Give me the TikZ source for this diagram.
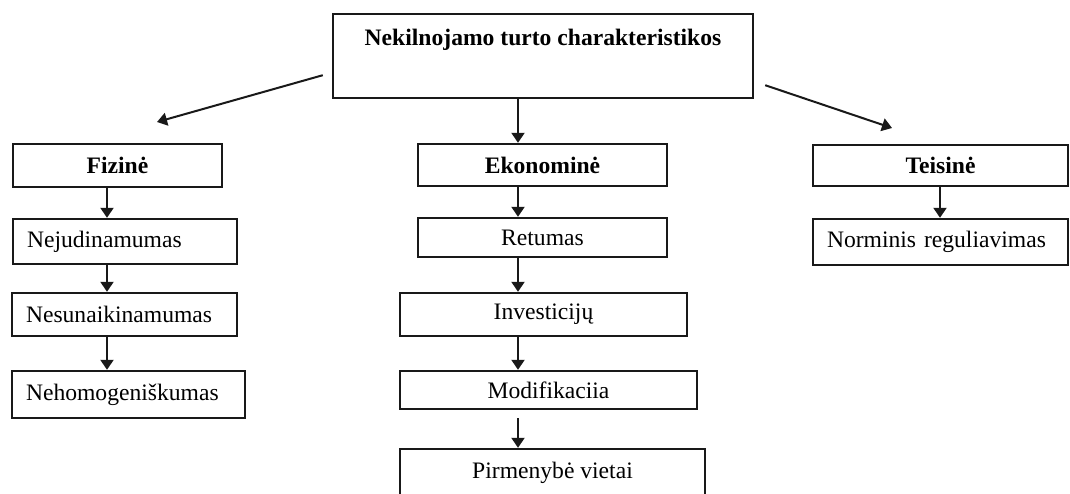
\documentclass[tikz,border=0pt]{standalone}
\usepackage{fontspec}
\setmainfont{Liberation Serif}
\usepackage{tikz}
\usetikzlibrary{arrows.meta}
\definecolor{figline}{RGB}{25,25,25}
\tikzset{
  box/.style ={draw=figline, line width=1.2pt, inner sep=0pt, font=\fontsize{11.8}{14}\selectfont},
  hd/.style  ={box, font=\fontsize{11.8}{14}\selectfont\bfseries},
  lft/.style ={box, align=left, inner xsep=7pt},
  arr/.style ={draw=figline, line width=1pt, -{Triangle[length=5pt,width=6.5pt]}},
}
\begin{document}
\begin{tikzpicture}[x=0.5pt,y=-0.5pt]
  \useasboundingbox (0,0) rectangle (1070,493);
  \clip (0,0) rectangle (1070,493);
  \node[hd,anchor=north,minimum width=210pt,text height=15.5pt,text depth=26.5pt] (top) at (543,13) {Nekilnojamo turto charakteristikos};
  \node[hd,minimum width=104.5pt,minimum height=21.5pt] (fiz) at (117.5,165.5) {Fizinė};
  \node[hd,minimum width=124.5pt,minimum height=21pt] (eko) at (542.5,165) {Ekonominė};
  \node[hd,minimum width=127.5pt,minimum height=20.5pt] (tei) at (940.5,165.5) {Teisinė};
  \node[lft,text width=98pt,minimum height=22.5pt] (nej) at (125,241.5) {Nejudinamumas};
  \node[lft,text width=98.5pt,minimum height=21.5pt] (nes) at (124.5,314.5) {Nesunaikinamumas};
  \node[lft,text width=102.5pt,minimum height=23.5pt] (neh) at (128.5,394.5) {Nehomogeniškumas};
  \node[box,minimum width=124.5pt,minimum height=19.5pt] (ret) at (542.5,237.5) {Retumas};
  \node[box,minimum width=143.5pt,minimum height=21.5pt] (inv) at (543.5,314.5) {Investicijų};
  \node[box,minimum width=148.5pt,minimum height=19pt] (mod) at (548.5,390) {Modifikaciia};
  \node[box,minimum width=152.5pt,minimum height=24pt] (pir) at (552.5,473) {Pirmenybė vietai};
  \node[lft,text width=113.5pt,minimum height=23pt] (nor) at (940.5,242) {Norminis reguliavimas};
  \coordinate (lx) at (107,0);
  \coordinate (mx) at (518,0);
  \coordinate (rx) at (940,0);
  \coordinate (fizend) at (157,122);
  \coordinate (teiend) at (892,128);
  \draw[arr] ([xshift=-4.5pt,yshift=-9.5pt]top.west) -- (fizend);
  \draw[arr] ([xshift=5.5pt,yshift=-14.5pt]top.east) -- (teiend);
  \draw[arr] (top.south -| mx) -- (eko.north -| mx);
  \draw[arr] (fiz.south -| lx) -- (nej.north -| lx);
  \draw[arr] (nej.south -| lx) -- (nes.north -| lx);
  \draw[arr] (nes.south -| lx) -- (neh.north -| lx);
  \draw[arr] (eko.south -| mx) -- (ret.north -| mx);
  \draw[arr] (ret.south -| mx) -- (inv.north -| mx);
  \draw[arr] (inv.south -| mx) -- (mod.north -| mx);
  \draw[arr] ([yshift=-4pt]mod.south -| mx) -- (pir.north -| mx);
  \draw[arr] (tei.south -| rx) -- (nor.north -| rx);
\end{tikzpicture}
\end{document}
